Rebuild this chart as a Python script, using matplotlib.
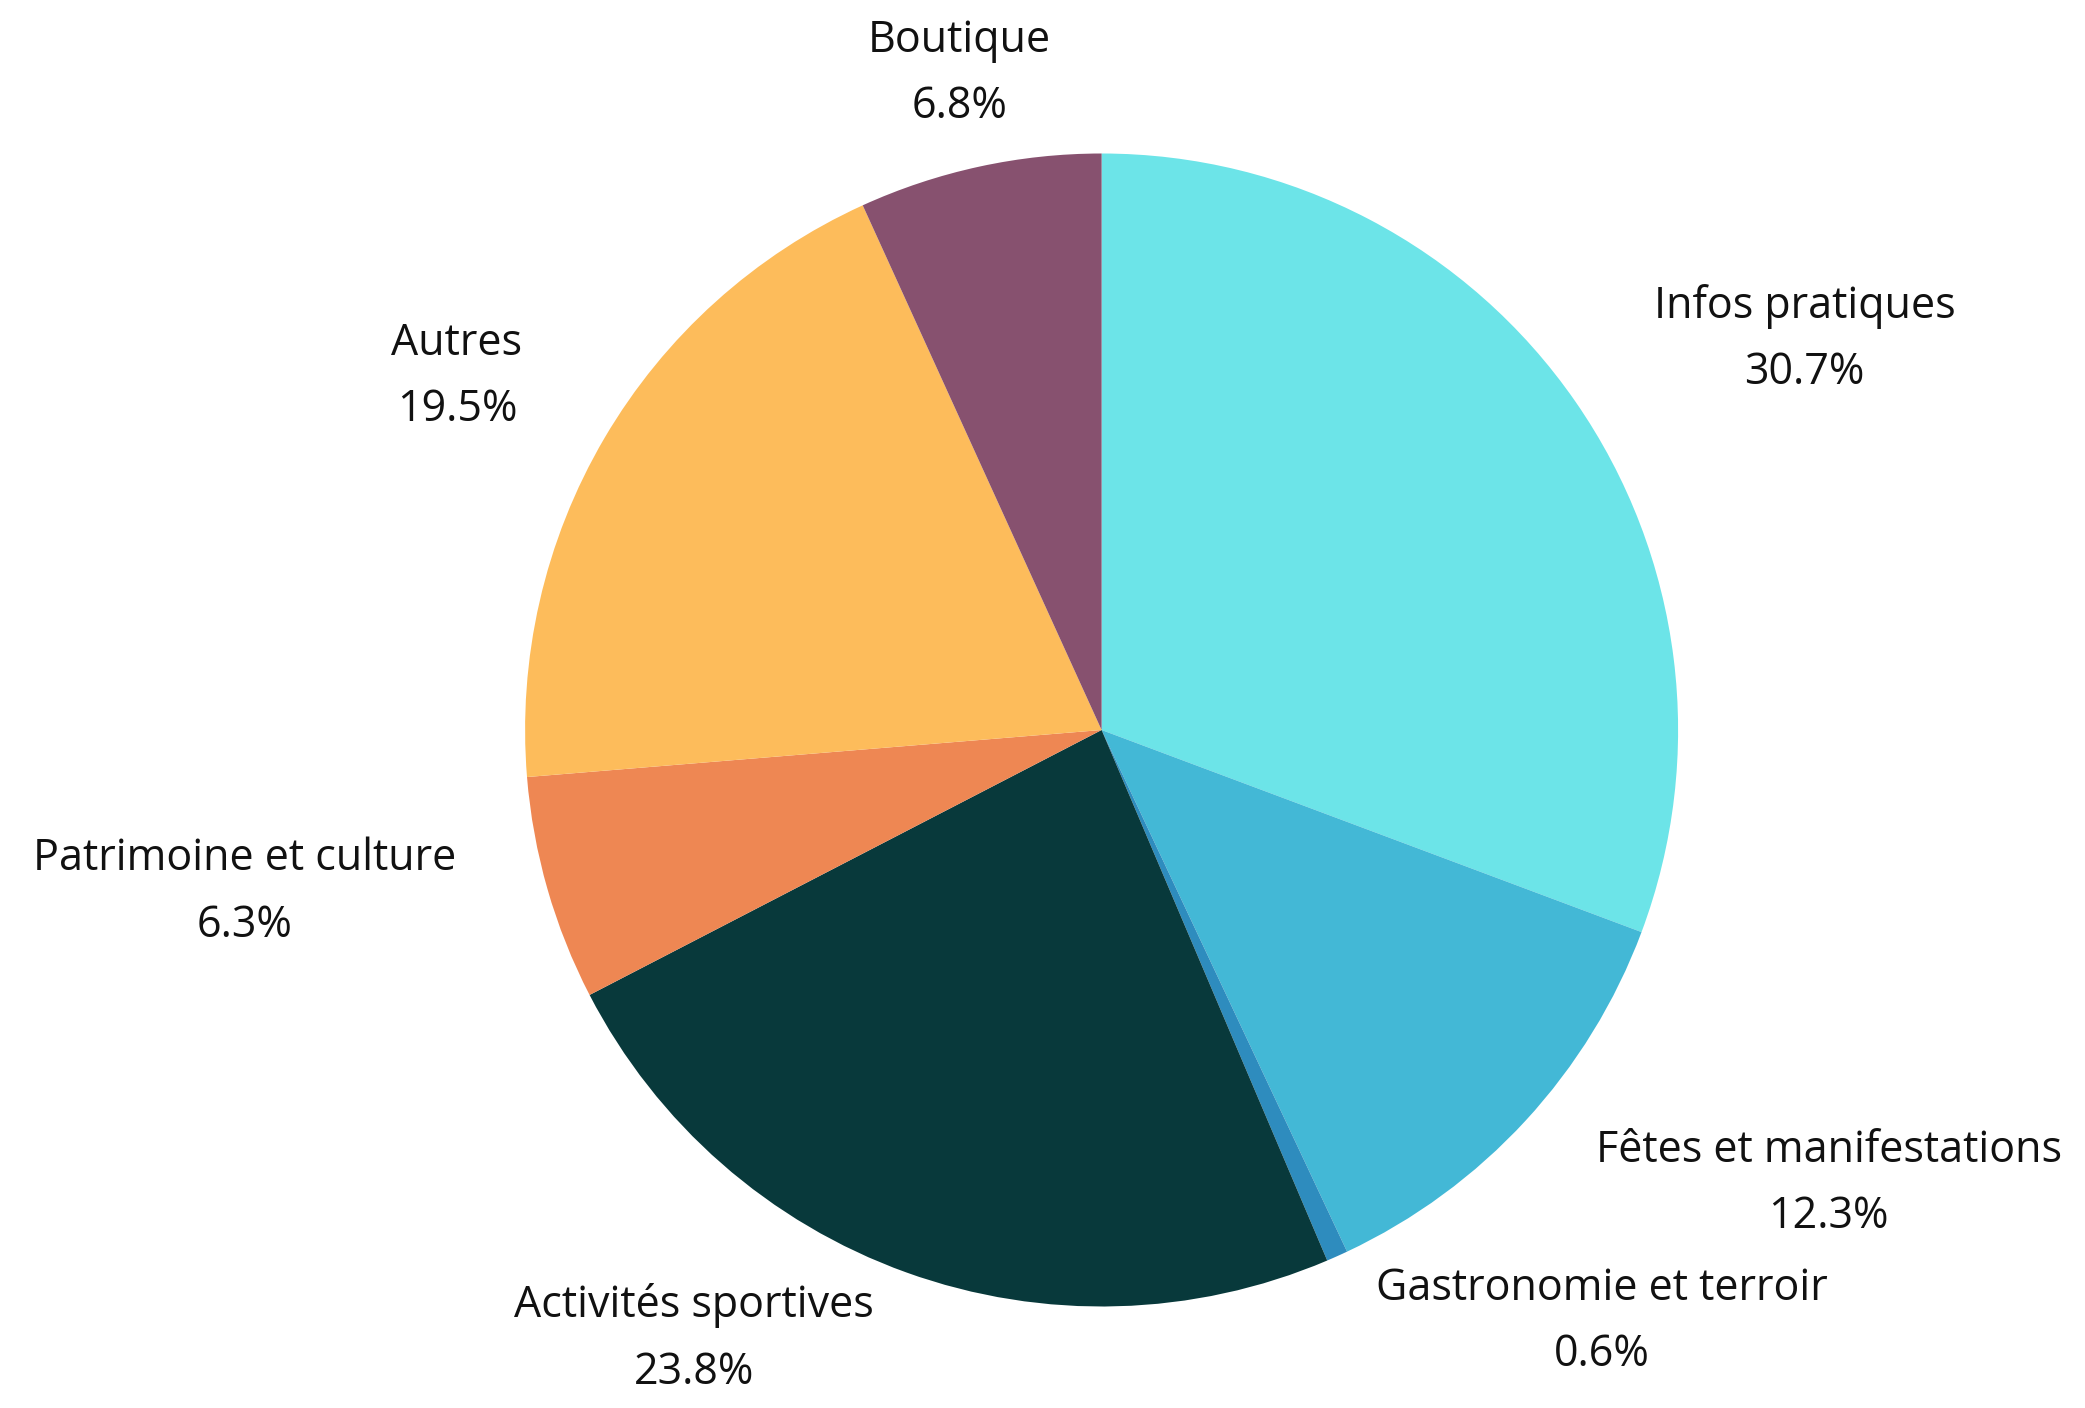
import numpy as np
import matplotlib.pyplot as plt

plt.rcParams['font.family'] = ['Open Sans', 'DejaVu Sans']

labels = ["Infos pratiques", "Fêtes et manifestations", "Gastronomie et terroir",
          "Activités sportives", "Patrimoine et culture", "Autres", "Boutique"]
values = [30.7, 12.3, 0.6, 23.8, 6.3, 19.5, 6.8]
colors = ["#6CE4E8", "#43B8D6", "#2E8CBE", "#08393B", "#EE8753", "#FDBC5B", "#87516F"]

W, H = 2085, 1408
fig = plt.figure(figsize=(W / 100, H / 100), dpi=100)
cx, cy, r = 1101.6, 730, 576.5
ax = fig.add_axes([(cx - r) / W, (H - cy - r) / H, 2 * r / W, 2 * r / H])

wedges, _ = ax.pie(values, colors=colors, startangle=90, counterclock=False,
                   radius=1, wedgeprops=dict(linewidth=0))
ax.set_xlim(-1, 1)
ax.set_ylim(-1, 1)
ax.set_aspect('equal')
ax.axis('off')

# label placement: box corner pushed out from the wedge's middle angle
rx, ry = 1.165, 1.02
for w, lab, v in zip(wedges, labels, values):
    ang = np.deg2rad((w.theta1 + w.theta2) / 2)
    s, c = np.cos(ang), np.sin(ang)
    ha = 'left' if s > 0.25 else ('right' if s < -0.25 else 'center')
    va = 'bottom' if c > 0.3 else ('top' if c < -0.3 else 'center')
    y = ry * c + (0.045 if c > 0.9 else 0)
    ax.text(rx * s, y, f"{lab}\n{v}%", ha=ha, va=va, multialignment='center',
            fontsize=31, linespacing=1.65, color='#111111', clip_on=False)

fig.savefig('out.png', dpi=100)
